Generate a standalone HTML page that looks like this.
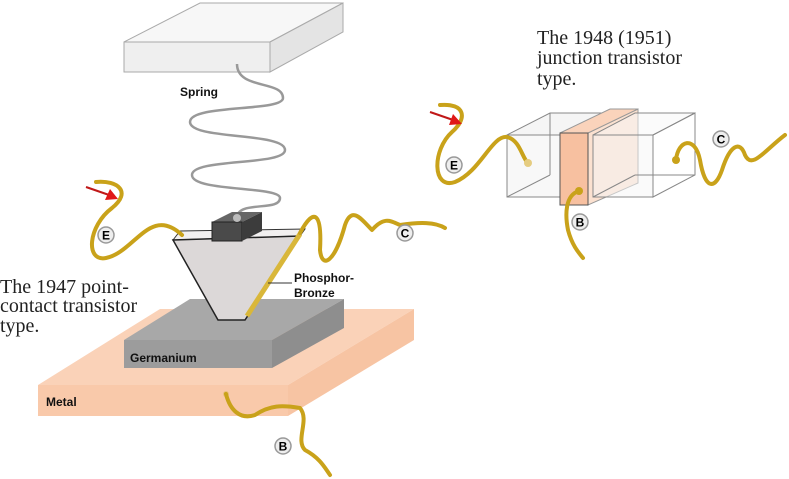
<!DOCTYPE html>
<html><head><meta charset="utf-8"><style>
html,body{margin:0;padding:0;background:#fff;}
svg{display:block}
.s{font-family:"Liberation Serif",serif;font-size:20px;fill:#222}
.b{font-family:"Liberation Sans",sans-serif;font-weight:bold;font-size:12px;fill:#111}
.w{fill:none;stroke:#c9a21a;stroke-width:4;stroke-linecap:round;stroke-linejoin:round}
.lbl circle{fill:#eee;stroke:#999;stroke-width:1.5}
.lbl text{font-family:"Liberation Sans",sans-serif;font-weight:bold;font-size:12px;fill:#000;text-anchor:middle}
</style></head><body>
<svg width="789" height="479" viewBox="0 0 789 479" xmlns="http://www.w3.org/2000/svg">
<!-- top box -->
<polygon points="124,42 200,3 343,3 270,42" fill="#f7f7f7" stroke="#aaa"/>
<rect x="124" y="42" width="146" height="30" fill="#efefef" stroke="#aaa"/>
<polygon points="270,42 343,3 343,32 270,72" fill="#e4e4e4" stroke="#aaa"/>
<!-- spring -->
<path d="M237,64 C237,90 283,80 283,98 C283,112 190,104 190,122 C190,140 285,132 285,150 C285,166 192,158 192,175 C192,192 280,186 280,198 C280,212 237,200 237,218" fill="none" stroke="#999" stroke-width="2.5"/>
<text x="180" y="96" class="b">Spring</text>
<!-- metal -->
<polygon points="38,385 160,309 414,309 288,385" fill="#fad2b8"/>
<rect x="38" y="385" width="250" height="31" fill="#f9c9aa"/>
<polygon points="288,385 414,309 414,340 288,416" fill="#f7c4a3"/>
<text x="46" y="406" class="b">Metal</text>
<!-- germanium -->
<polygon points="124,340 190,299 344,299 272,340" fill="#a8a8a8"/>
<rect x="124" y="340" width="148" height="28" fill="#9c9c9c"/>
<polygon points="272,340 344,299 344,328 272,368" fill="#8e8e8e"/>
<text x="130" y="362" class="b">Germanium</text>
<!-- funnel -->
<polygon points="173,240 180,231 305,229 300,236" fill="#f2f0f0" stroke="#333"/>
<polygon points="173,240 300,236 245,320 218,320" fill="#dcd8d8" stroke="#222" stroke-width="1.5"/>
<line x1="300" y1="234" x2="247" y2="316" stroke="#d9b73a" stroke-width="5"/>
<line x1="268" y1="283" x2="292" y2="283" stroke="#333"/>
<text x="294" y="282" class="b">Phosphor-</text>
<text x="294" y="297" class="b">Bronze</text>
<!-- block -->
<polygon points="212,222 232,212 262,212 242,222" fill="#666"/>
<rect x="212" y="222" width="30" height="19" fill="#4a4a4a" stroke="#222"/>
<polygon points="242,222 262,212 262,231 242,241" fill="#3c3c3c"/>
<circle cx="237" cy="218" r="4" fill="#bbb"/>
<!-- wires left -->
<path class="w" d="M96,182 C118,180 132,192 112,208 C88,226 85,262 106,258 C135,252 150,205 182,235"/>
<path class="w" d="M300,233 C315,205 322,215 320,250 C322,270 335,262 345,225 C352,205 362,220 372,230 C385,215 392,222 400,225 C420,222 435,222 445,228"/>
<circle cx="226" cy="394" r="3" fill="#e8c080"/>
<path class="w" d="M226,394 C230,410 240,420 255,415 C270,405 282,405 300,408 C310,420 295,440 305,450 C320,458 325,468 330,475"/>
<path d="M86,187 L112,196" stroke="#c01818" stroke-width="2"/>
<polygon points="118,199 105,200 110,189" fill="#e01818"/>
<g class="lbl"><circle cx="106" cy="235" r="8"/><text x="106" y="239.5">E</text>
<circle cx="405" cy="233" r="8"/><text x="405" y="237.5">C</text>
<circle cx="283" cy="446" r="8"/><text x="283" y="450.5">B</text></g>
<text class="s" x="0" y="293">The 1947 point-</text>
<text class="s" x="0" y="312">contact transistor</text>
<text class="s" x="0" y="332">type.</text>
<!-- right -->
<text class="s" x="537" y="44">The 1948 (1951)</text>
<text class="s" x="537" y="64">junction transistor</text>
<text class="s" x="537" y="85">type.</text>
<g fill="none" stroke="#888" stroke-width="1">
<polygon points="507,135 550,113 602,113 560,135" fill="#f5f5f5"/>
<rect x="507" y="135" width="53" height="62" fill="#f4f4f4" fill-opacity="0.6"/>
<line x1="550" y1="113" x2="550" y2="175"/><line x1="507" y1="197" x2="550" y2="175"/>
</g>
<polygon points="588,133 638,109 638,183 588,205" fill="#fbe1d0" stroke="#999"/>
<polygon points="560,133 610,109 638,109 588,133" fill="#fad3bb" stroke="#999"/>
<rect x="560" y="133" width="28" height="72" fill="#f7c0a0" stroke="#555"/>
<g fill="none" stroke="#888" stroke-width="1">
<polygon points="593,135 635,113 695,113 653,135" fill="#f7f7f7" fill-opacity="0.5"/>
<rect x="593" y="135" width="60" height="62" fill="#f5f5f5" fill-opacity="0.5"/>
<polygon points="653,135 695,113 695,175 653,197"/>
<line x1="593" y1="197" x2="635" y2="175"/><line x1="635" y1="175" x2="695" y2="175"/>
</g>
<path class="w" d="M440,105 C465,103 468,118 452,132 C432,150 432,190 455,182 C480,172 492,135 507,137 C520,140 522,158 528,163"/>
<circle cx="528" cy="163" r="4" fill="#e5cc80"/>
<circle cx="676" cy="160" r="4" fill="#c9a21a"/>
<path class="w" d="M676,160 C678,140 695,135 700,160 C705,190 715,190 722,170 C730,145 740,140 745,155 C752,170 765,150 785,135"/>
<circle cx="579" cy="191" r="4" fill="#c9a21a"/>
<path class="w" d="M579,191 C565,195 565,215 568,230 C572,245 578,252 583,258"/>
<path d="M430,112 L456,121" stroke="#c01818" stroke-width="2"/>
<polygon points="462,124 449,125 453,114" fill="#e01818"/>
<g class="lbl"><circle cx="454" cy="165" r="8"/><text x="454" y="169.5">E</text>
<circle cx="721" cy="139" r="8"/><text x="721" y="143.5">C</text>
<circle cx="580" cy="222" r="8"/><text x="580" y="226.5">B</text></g>
</svg>
</body></html>
